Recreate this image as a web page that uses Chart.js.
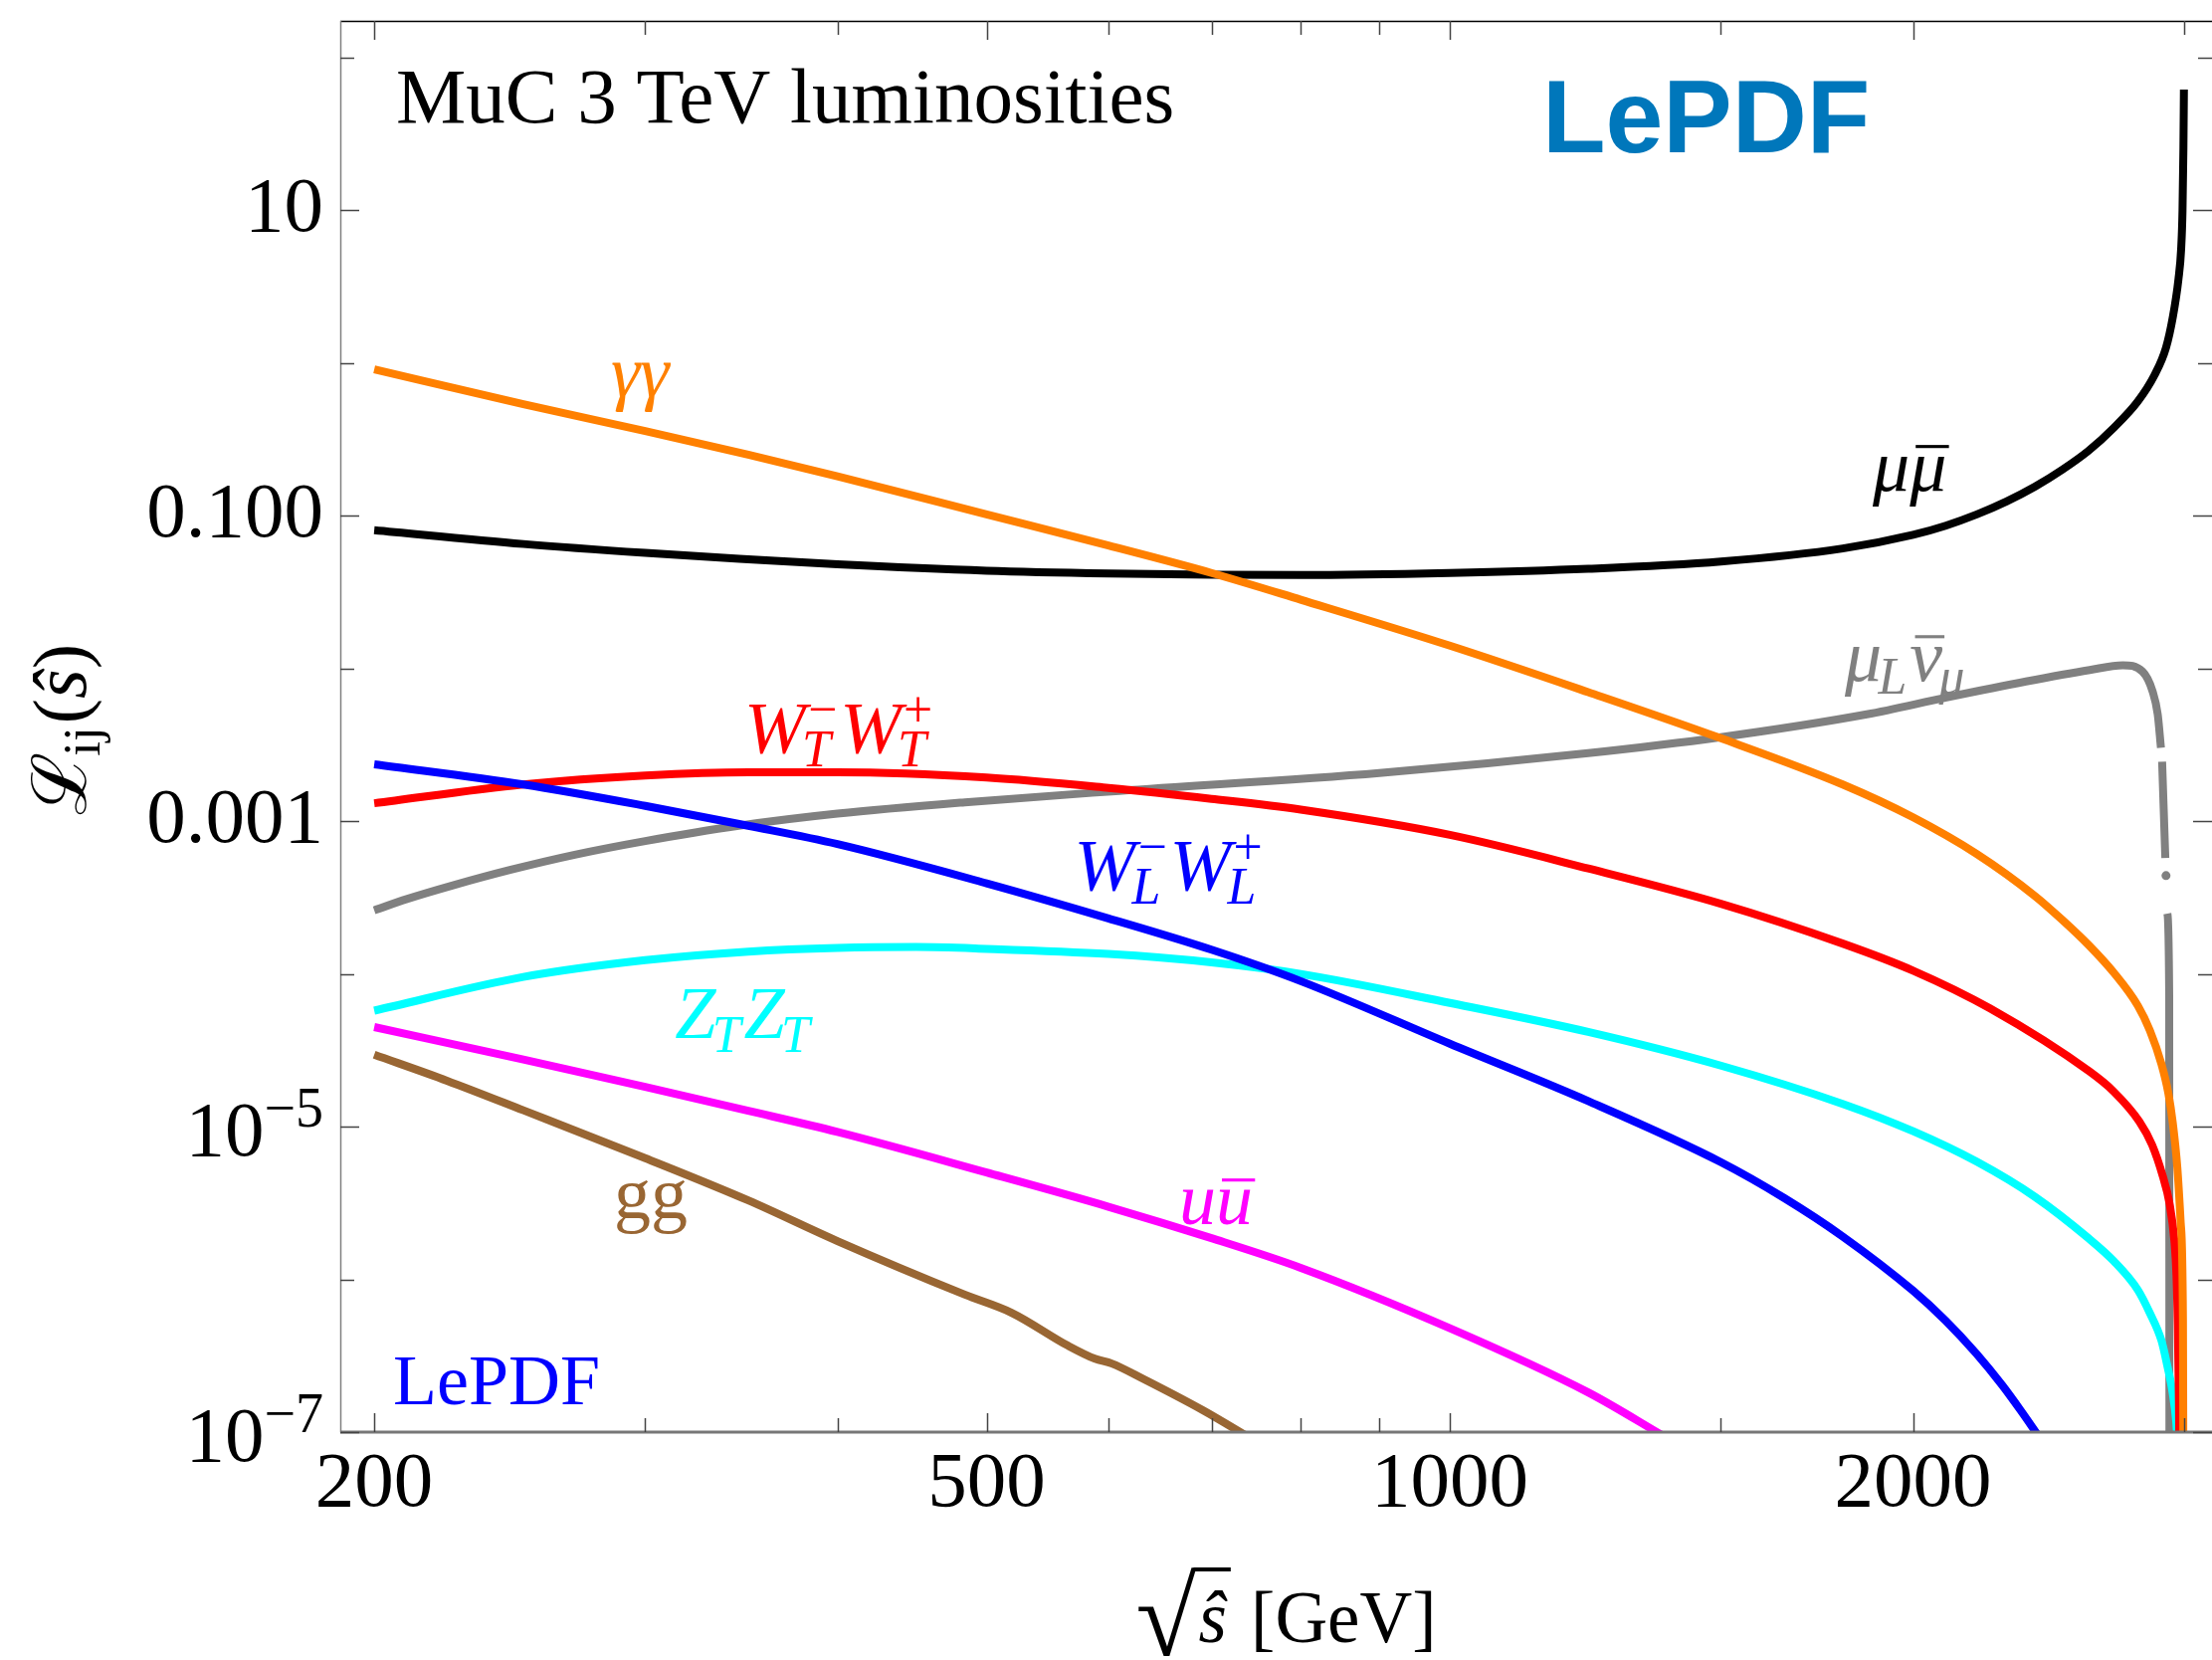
<!DOCTYPE html>
<html>
<head>
<meta charset="utf-8">
<script src="https://cdn.jsdelivr.net/npm/chart.js@4.4.1/dist/chart.umd.min.js"></script>
<style>
  html, body { margin: 0; padding: 0; background: #ffffff; }
  canvas { display: block; }
</style>
</head>
<body>
<canvas id="lumi" width="2223" height="1668"></canvas>
<script>
// ---- axis ranges ----
const sRange = [190.1, 3128];        // sqrt(s-hat) [GeV]
const lumRange = [1e-7, 173.8];      // parton luminosity

// ---- axis ticks ----
const xTickValues = [200, 300, 400, 500, 600, 700, 800, 900, 1000, 1500, 2000, 3000];
const xTickLabels = ['200', '', '', '500', '', '', '', '', '1000', '', '2000', ''];
const yTickValues = [1e-7, 1e-6, 1e-5, 1e-4, 1e-3, 1e-2, 1e-1, 1, 10, 100];
const yTickMantissa = ['10', '', '10', '', '0.001', '', '0.100', '', '10', ''];
const yTickExponent = ['−7', '', '−5', '', '', '', '', '', '', ''];

// ---- luminosities per channel ----
const sMuMu = [200, 250, 300, 350, 400, 500, 600, 700, 800, 1000, 1230, 1500, 1800, 2000, 2100, 2200, 2300, 2400, 2500, 2600, 2700, 2800, 2870, 2920, 2950, 2975, 2987, 2993, 2997, 2999.3];
const lumMuMu = [0.0804, 0.0653, 0.0571, 0.0519, 0.0481, 0.0437, 0.0419, 0.0411, 0.0409, 0.0422, 0.0449, 0.0501, 0.0610, 0.0750, 0.0861, 0.102, 0.124, 0.155, 0.200, 0.266, 0.376, 0.562, 0.832, 1.26, 2.00, 3.55, 5.62, 10.0, 25.1, 61.7];

const sGamGam = [200, 250, 300, 350, 400, 500, 600, 700, 800, 1000, 1230, 1500, 1800, 2000, 2200, 2400, 2500, 2600, 2700, 2800, 2850, 2900, 2930, 2950, 2970, 2985, 2995, 3000];
const lumGamGam = [0.910, 0.537, 0.359, 0.251, 0.181, 0.102, 0.0638, 0.0422, 0.0282, 0.0141, 0.00700, 0.00349, 0.00174, 0.00106, 6.10e-4, 3.24e-4, 2.26e-4, 1.55e-4, 1.02e-4, 6.17e-5, 4.27e-5, 2.57e-5, 1.66e-5, 1.05e-5, 5.37e-6, 2.34e-6, 5.5e-7, 1e-9];

const sMuNu = [200, 210, 225, 245, 270, 300, 345, 400, 484, 610, 900, 1230, 1500, 1866, 2102, 2368, 2605, 2737, 2819, 2862, 2884, 2898, 2898, 2903, 2917, 2917, 2920, 2920, 2926, 2934, 2935.5];
const lumMuNu = [2.61e-4, 3.09e-4, 3.80e-4, 4.79e-4, 6.03e-4, 7.41e-4, 9.33e-4, 1.12e-3, 1.33e-3, 1.58e-3, 2.07e-3, 2.79e-3, 3.55e-3, 5.01e-3, 6.46e-3, 8.22e-3, 9.77e-3, 1.05e-2, 9.55e-3, 7.08e-3, 5.01e-3, 3.02e-3, null, 2.45e-3, 5.75e-4, null, 4.40e-4, null, 2.48e-4, 7.24e-5, 1e-9];
const muNuDotS = 2920;

const sWTWT = [200, 250, 300, 350, 400, 500, 600, 700, 800, 1000, 1230, 1500, 1800, 2000, 2244, 2605, 2700, 2806, 2860, 2905, 2935, 2957, 2966, 2972, 2977, 2981];
const lumWTWT = [1.31e-3, 1.74e-3, 1.99e-3, 2.09e-3, 2.09e-3, 1.93e-3, 1.65e-3, 1.40e-3, 1.19e-3, 8.13e-4, 4.90e-4, 2.88e-4, 1.58e-4, 1.05e-4, 5.94e-5, 2.29e-5, 1.70e-5, 1.08e-5, 7.59e-6, 4.79e-6, 3.16e-6, 1.78e-6, 1.07e-6, 5.0e-7, 1.58e-7, 3.2e-8];

const sWLWL = [200, 250, 300, 350, 400, 500, 600, 700, 800, 1000, 1230, 1500, 1650, 1800, 2000, 2100, 2200, 2285, 2350, 2412];
const lumWLWL = [2.36e-3, 1.74e-3, 1.26e-3, 9.33e-4, 7.08e-4, 3.92e-4, 2.31e-4, 1.44e-4, 8.97e-5, 3.49e-5, 1.47e-5, 5.86e-6, 3.40e-6, 1.91e-6, 8.43e-7, 5.36e-7, 3.24e-7, 2.03e-7, 1.38e-7, 9.46e-8];

const sZTZT = [200, 250, 300, 350, 400, 450, 500, 600, 700, 800, 1000, 1230, 1500, 1800, 2000, 2200, 2400, 2600, 2700, 2800, 2850, 2900, 2925, 2950, 2965, 2976];
const lumZTZT = [5.75e-5, 9.55e-5, 1.23e-4, 1.40e-4, 1.48e-4, 1.50e-4, 1.46e-4, 1.35e-4, 1.19e-4, 1.00e-4, 6.46e-5, 4.17e-5, 2.51e-5, 1.41e-5, 9.33e-6, 5.89e-6, 3.47e-6, 1.86e-6, 1.32e-6, 8.51e-7, 6.03e-7, 3.98e-7, 2.75e-7, 1.78e-7, 1.17e-7, 6.3e-8];

const sUU = [200, 250, 300, 350, 400, 500, 600, 700, 800, 1000, 1230, 1380];
const lumUU = [4.49e-5, 2.75e-5, 1.82e-5, 1.27e-5, 9.23e-6, 5.01e-6, 2.99e-6, 1.86e-6, 1.19e-6, 4.79e-7, 1.82e-7, 9.3e-8];

const sGluGlu = [200, 223, 250, 300, 350, 400, 484, 519, 565, 588, 603, 632, 691, 745];
const lumGluGlu = [2.96e-5, 2.0e-5, 1.28e-5, 6.22e-6, 3.29e-6, 1.78e-6, 7.94e-7, 6.05e-7, 3.67e-7, 3.02e-7, 2.81e-7, 2.23e-7, 1.39e-7, 8.9e-8];

// ---- styling ----
const SERIF = '"Liberation Serif", "Times New Roman", "DejaVu Serif", serif';
const SANS = '"Liberation Sans", Arial, Helvetica, sans-serif';
const LINE_W = 8;

function series(label, xs, ys, color, extra) {
  return Object.assign({
    label,
    data: xs.map((s, i) => ({ x: s, y: ys[i] })),
    borderColor: color,
    backgroundColor: color,
    borderWidth: LINE_W,
    pointRadius: 0,
    pointHoverRadius: 0,
    pointBorderWidth: 0,
    fill: false,
    cubicInterpolationMode: 'monotone',
    spanGaps: false,
    clip: 0,
    borderCapStyle: 'butt',
    borderJoinStyle: 'round'
  }, extra || {});
}

// first dataset is painted last (on top)
const datasets = [
  series('W_L W_L', sWLWL, lumWLWL, '#0000ff'),
  series('γγ', sGamGam, lumGamGam, '#ff8000'),
  series('W_T W_T', sWTWT, lumWTWT, '#ff0000'),
  series('Z_T Z_T', sZTZT, lumZTZT, '#00ffff'),
  series('gg', sGluGlu, lumGluGlu, '#996633'),
  series('uū', sUU, lumUU, '#ff00ff'),
  series('μμ̄', sMuMu, lumMuMu, '#000000'),
  series('μ_L ν̄_μ', sMuNu, lumMuNu, '#808080', {
    pointRadius: ctx => (ctx.raw && ctx.raw.x === muNuDotS && ctx.raw.y !== null) ? 4.5 : 0
  })
];

// curve labels, anchored at (sqrt s, luminosity) = left end of the baseline
const curveLabels = [
  { parts: [{ t: 'γγ', i: 1 }], color: '#ff8000', s: 285, l: 0.608 },
  { parts: [{ t: 'μ', i: 1 }, { t: 'μ', i: 1, bar: 1 }], color: '#000000', s: 1883, l: 0.146 },
  { parts: [{ t: 'μ', i: 1 }, { sub: 'L' }, { t: 'ν', i: 1, bar: 1 }, { sub: 'μ' }], color: '#808080', s: 1806, l: 0.0083 },
  { parts: [{ t: 'W', i: 1 }, { sub: 'T', sup: '−' }, { t: 'W', i: 1 }, { sub: 'T', sup: '+' }], color: '#ff0000', s: 348, l: 0.00278 },
  { parts: [{ t: 'W', i: 1 }, { sub: 'L', sup: '−' }, { t: 'W', i: 1 }, { sub: 'L', sup: '+' }], color: '#0000ff', s: 570, l: 3.5e-4 },
  { parts: [{ t: 'Z', i: 1 }, { sub: 'T' }, { t: 'Z', i: 1 }, { sub: 'T' }], color: '#00ffff', s: 313.6, l: 3.79e-5 },
  { parts: [{ t: 'gg' }], color: '#996633', s: 286.3, l: 2.51e-6 },
  { parts: [{ t: 'u', i: 1 }, { t: 'u', i: 1, bar: 1 }], color: '#ff00ff', s: 667, l: 2.3e-6 }
];
const LABEL_SIZE = 74;

// mixed text with italics, sub/superscripts and overbars
function drawRich(ctx, parts, x, y, size, measureOnly) {
  let cx = x;
  for (const p of parts) {
    if (p.t !== undefined) {
      ctx.font = (p.i ? 'italic ' : '') + size + 'px ' + SERIF;
      const w = ctx.measureText(p.t).width;
      if (!measureOnly) {
        ctx.fillText(p.t, cx, y);
        if (p.bar) ctx.fillRect(cx + w * 0.16, y - size * 0.62, w * 0.9, size * 0.042);
      }
      cx += w;
    } else {
      const ss = size * 0.7;
      let w = 0;
      if (p.sub) {
        ctx.font = (p.subUp ? '' : 'italic ') + ss + 'px ' + SERIF;
        const ws = ctx.measureText(p.sub).width;
        if (!measureOnly) ctx.fillText(p.sub, cx - size * 0.05, y + size * 0.18);
        w = Math.max(w, ws - size * 0.05);
      }
      if (p.sup) {
        ctx.font = ss + 'px ' + SERIF;
        const ws = ctx.measureText(p.sup).width;
        if (!measureOnly) ctx.fillText(p.sup, cx + size * 0.03, y - size * 0.36);
        w = Math.max(w, ws + size * 0.03);
      }
      cx += w + size * 0.04;
    }
  }
  return cx - x;
}

const decorPlugin = {
  id: 'decor',
  afterDatasetsDraw(chart) {
    const { ctx, chartArea: a, scales } = chart;
    const xs = scales.x, ys = scales.y;
    ctx.save();
    ctx.textAlign = 'left';
    ctx.textBaseline = 'alphabetic';

    // frame
    ctx.lineCap = 'butt';
    ctx.strokeStyle = '#000000';
    ctx.lineWidth = 1.5;
    ctx.beginPath(); ctx.moveTo(a.left, a.top + 0.5); ctx.lineTo(a.right, a.top + 0.5); ctx.stroke();
    ctx.strokeStyle = '#808080';
    ctx.beginPath(); ctx.moveTo(a.left + 0.5, a.top); ctx.lineTo(a.left + 0.5, a.bottom); ctx.stroke();
    ctx.lineWidth = 3;
    ctx.strokeStyle = '#777777';
    ctx.beginPath(); ctx.moveTo(a.left, a.bottom); ctx.lineTo(a.right, a.bottom); ctx.stroke();

    // tick marks (inside, all four sides)
    ctx.lineWidth = 1.5;
    ctx.strokeStyle = '#444444';
    xTickValues.forEach((v, i) => {
      const px = Math.round(xs.getPixelForValue(v)) + 0.5;
      const len = xTickLabels[i] ? 19 : 14;
      ctx.beginPath();
      ctx.moveTo(px, a.bottom); ctx.lineTo(px, a.bottom - len);
      ctx.moveTo(px, a.top); ctx.lineTo(px, a.top + len);
      ctx.stroke();
    });
    yTickValues.forEach((v, i) => {
      const py = Math.round(ys.getPixelForValue(v)) + 0.5;
      const len = yTickMantissa[i] ? 19 : 14;
      ctx.beginPath();
      ctx.moveTo(a.left, py); ctx.lineTo(a.left + len, py);
      ctx.moveTo(a.right, py); ctx.lineTo(a.right - len, py);
      ctx.stroke();
    });

    // tick labels
    ctx.fillStyle = '#000000';
    const TICK = 79;
    ctx.textAlign = 'center';
    ctx.font = TICK + 'px ' + SERIF;
    xTickValues.forEach((v, i) => {
      if (!xTickLabels[i]) return;
      ctx.fillText(xTickLabels[i], xs.getPixelForValue(v), a.bottom + 74);
    });
    ctx.textAlign = 'right';
    const labelRight = a.left - 17;
    yTickValues.forEach((v, i) => {
      if (!yTickMantissa[i]) return;
      const py = ys.getPixelForValue(v);
      if (yTickExponent[i]) {
        ctx.font = '56px ' + SERIF;
        const we = ctx.measureText(yTickExponent[i]).width;
        ctx.fillText(yTickExponent[i], labelRight, py);
        ctx.font = TICK + 'px ' + SERIF;
        ctx.fillText(yTickMantissa[i], labelRight - we, py + 29);
      } else {
        ctx.font = TICK + 'px ' + SERIF;
        ctx.fillText(yTickMantissa[i], labelRight, py + 21);
      }
    });

    // x-axis title: sqrt(s-hat) [GeV]
    ctx.textAlign = 'left';
    {
      const base = a.bottom + 211;
      const fs = 73;
      ctx.font = '100px ' + SERIF;
      const m = ctx.measureText('√');
      const h100 = m.actualBoundingBoxAscent + m.actualBoundingBoxDescent;
      const rs = 100 * 90 / h100;
      ctx.font = rs + 'px ' + SERIF;
      const mr = ctx.measureText('√');
      const wr = mr.width;
      ctx.font = 'italic ' + fs + 'px ' + SERIF;
      const wsHat = ctx.measureText('ŝ').width;
      ctx.font = fs + 'px ' + SERIF;
      const wRest = ctx.measureText(' [GeV]').width;
      const total = wr + wsHat + wRest + 8;
      let x0 = (a.left + a.right) / 2 + 10 - total / 2;
      const radTop = a.bottom + 136;
      const radBase = radTop + mr.actualBoundingBoxAscent;
      ctx.font = rs + 'px ' + SERIF;
      ctx.fillText('√', x0, radBase);
      const barStart = x0 + mr.actualBoundingBoxRight - 3;
      x0 += wr + 2;
      ctx.font = 'italic ' + fs + 'px ' + SERIF;
      ctx.fillText('ŝ', x0, base);
      ctx.fillRect(barStart, radTop, x0 + wsHat + 4 - barStart, 4);
      x0 += wsHat + 6;
      ctx.font = fs + 'px ' + SERIF;
      ctx.fillText(' [GeV]', x0, base);
    }

    // y-axis title: L_ij(s-hat)
    {
      const parts = [{ t: 'ℒ' }, { sub: 'ij', subUp: 1 }, { t: '(' }, { t: 'ŝ', i: 1 }, { t: ')' }];
      const size = 76;
      const w = drawRich(ctx, parts, 0, 0, size, true);
      ctx.save();
      ctx.translate(86, (a.top + a.bottom) / 2 + 3 + w / 2);
      ctx.rotate(-Math.PI / 2);
      drawRich(ctx, parts, 0, 0, size, false);
      ctx.restore();
    }

    // headings inside the frame
    ctx.fillStyle = '#000000';
    ctx.font = '79px ' + SERIF;
    ctx.fillText('MuC 3 TeV luminosities', a.left + 56, a.top + 102);
    ctx.fillStyle = '#0077bb';
    ctx.font = 'bold 104px ' + SANS;
    ctx.fillText('LePDF', a.left + 1208, a.top + 131.5);
    ctx.fillStyle = '#0000ff';
    ctx.font = '72px ' + SERIF;
    ctx.fillText('LePDF', a.left + 53, a.top + 1390);

    // curve labels
    curveLabels.forEach(lb => {
      ctx.fillStyle = lb.color;
      drawRich(ctx, lb.parts, xs.getPixelForValue(lb.s), ys.getPixelForValue(lb.l), LABEL_SIZE, false);
    });

    ctx.restore();
  }
};

new Chart(document.getElementById('lumi'), {
  type: 'line',
  data: { datasets },
  options: {
    responsive: false,
    animation: false,
    devicePixelRatio: 1,
    layout: { padding: { left: 342, right: 0, top: 21, bottom: 229 } },
    plugins: { legend: { display: false }, tooltip: { enabled: false } },
    events: [],
    scales: {
      x: { type: 'logarithmic', min: sRange[0], max: sRange[1], display: false },
      y: { type: 'logarithmic', min: lumRange[0], max: lumRange[1], display: false }
    }
  },
  plugins: [decorPlugin]
});
</script>
</body>
</html>
